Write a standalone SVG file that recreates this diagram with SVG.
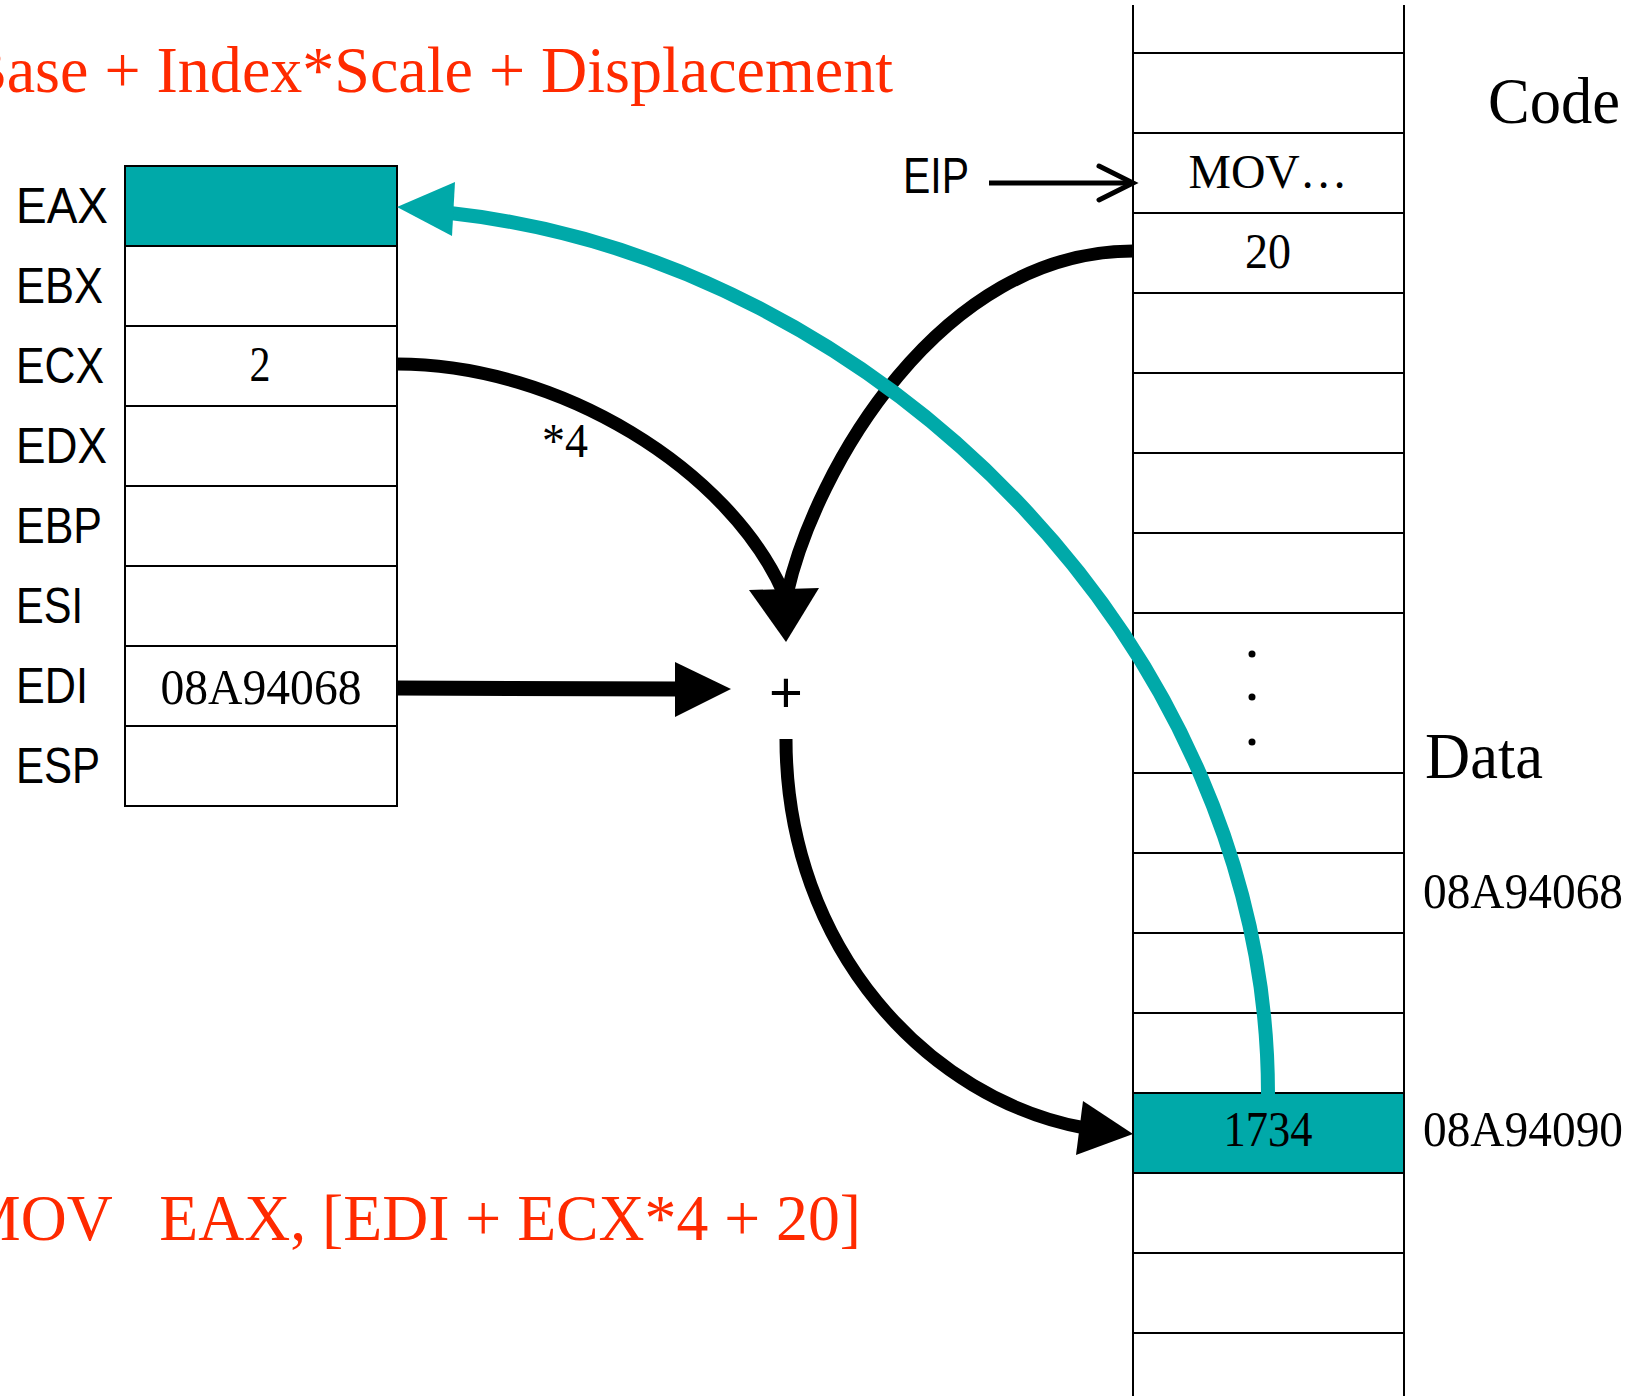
<svg xmlns="http://www.w3.org/2000/svg" width="1637" height="1396" viewBox="0 0 1637 1396">
<style>
.cell{fill:#fff;stroke:#000;stroke-width:2}
.teal{fill:#00A9A9;stroke:#000;stroke-width:2}
.reg{font-family:"Liberation Sans",Arial,sans-serif;font-size:50px;fill:#000}
.ser{font-family:"Liberation Serif","Times New Roman",serif;fill:#000}
.red{font-family:"Liberation Serif","Times New Roman",serif;font-size:66px;fill:#FF2A00}
.mline{stroke:#000;stroke-width:2}
.thick{fill:none;stroke:#000;stroke-width:13}
</style>
<rect width="1637" height="1396" fill="#fff"/>

<text class="red" x="-36" y="92" textLength="929" lengthAdjust="spacingAndGlyphs">Base + Index*Scale + Displacement</text>
<text class="red" x="-36" y="1240" style="white-space:pre" textLength="897" lengthAdjust="spacingAndGlyphs">MOV   EAX, [EDI + ECX*4 + 20]</text>

<g id="registers">
  <g id="reg-eax"><rect class="teal" x="125" y="166" width="272" height="80"/><text class="reg" x="16" y="223" textLength="92" lengthAdjust="spacingAndGlyphs">EAX</text></g>
  <g id="reg-ebx"><rect class="cell" x="125" y="246" width="272" height="80"/><text class="reg" x="16" y="303" textLength="87" lengthAdjust="spacingAndGlyphs">EBX</text></g>
  <g id="reg-ecx"><rect class="cell" x="125" y="326" width="272" height="80"/><text class="reg" x="16" y="383" textLength="88" lengthAdjust="spacingAndGlyphs">ECX</text><text class="ser" x="260" y="381" font-size="50" text-anchor="middle" textLength="21" lengthAdjust="spacingAndGlyphs">2</text></g>
  <g id="reg-edx"><rect class="cell" x="125" y="406" width="272" height="80"/><text class="reg" x="16" y="463" textLength="91" lengthAdjust="spacingAndGlyphs">EDX</text></g>
  <g id="reg-ebp"><rect class="cell" x="125" y="486" width="272" height="80"/><text class="reg" x="16" y="543" textLength="86" lengthAdjust="spacingAndGlyphs">EBP</text></g>
  <g id="reg-esi"><rect class="cell" x="125" y="566" width="272" height="80"/><text class="reg" x="16" y="623" textLength="67" lengthAdjust="spacingAndGlyphs">ESI</text></g>
  <g id="reg-edi"><rect class="cell" x="125" y="646" width="272" height="80"/><text class="reg" x="16" y="703" textLength="72" lengthAdjust="spacingAndGlyphs">EDI</text><text class="ser" x="261" y="704" font-size="50" text-anchor="middle" textLength="201" lengthAdjust="spacingAndGlyphs">08A94068</text></g>
  <g id="reg-esp"><rect class="cell" x="125" y="726" width="272" height="80"/><text class="reg" x="16" y="783" textLength="84" lengthAdjust="spacingAndGlyphs">ESP</text></g>
</g>

<g id="memory">
  <rect class="teal" x="1133" y="1093" width="271" height="80"/>
  <line class="mline" x1="1133" y1="5" x2="1133" y2="1396"/>
  <line class="mline" x1="1404" y1="5" x2="1404" y2="1396"/>
  <g class="mline">
    <line x1="1133" y1="53" x2="1404" y2="53"/>
    <line x1="1133" y1="133" x2="1404" y2="133"/>
    <line x1="1133" y1="213" x2="1404" y2="213"/>
    <line x1="1133" y1="293" x2="1404" y2="293"/>
    <line x1="1133" y1="373" x2="1404" y2="373"/>
    <line x1="1133" y1="453" x2="1404" y2="453"/>
    <line x1="1133" y1="533" x2="1404" y2="533"/>
    <line x1="1133" y1="613" x2="1404" y2="613"/>
    <line x1="1133" y1="773" x2="1404" y2="773"/>
    <line x1="1133" y1="853" x2="1404" y2="853"/>
    <line x1="1133" y1="933" x2="1404" y2="933"/>
    <line x1="1133" y1="1013" x2="1404" y2="1013"/>
    <line x1="1133" y1="1093" x2="1404" y2="1093"/>
    <line x1="1133" y1="1173" x2="1404" y2="1173"/>
    <line x1="1133" y1="1253" x2="1404" y2="1253"/>
    <line x1="1133" y1="1333" x2="1404" y2="1333"/>
  </g>
  <g id="mem-mov"><text class="ser" x="1268" y="188" font-size="48" text-anchor="middle" textLength="159" lengthAdjust="spacingAndGlyphs">MOV…</text></g>
  <g id="mem-20"><text class="ser" x="1268" y="268" font-size="50" text-anchor="middle" textLength="46" lengthAdjust="spacingAndGlyphs">20</text></g>
  <g id="mem-dots" fill="#000"><circle cx="1252" cy="654" r="3.5"/><circle cx="1252" cy="697" r="3.5"/><circle cx="1252" cy="742" r="3.5"/></g>
  <g id="mem-1734"><text class="ser" x="1268" y="1146" font-size="50" text-anchor="middle" textLength="89" lengthAdjust="spacingAndGlyphs">1734</text></g>
</g>

<g id="labels">
  <text class="ser" x="1488" y="123" font-size="66" textLength="132" lengthAdjust="spacingAndGlyphs">Code</text>
  <text class="ser" x="1425" y="778" font-size="66" textLength="118" lengthAdjust="spacingAndGlyphs">Data</text>
  <text class="ser" x="1423" y="908" font-size="50" textLength="200" lengthAdjust="spacingAndGlyphs">08A94068</text>
  <text class="ser" x="1423" y="1146" font-size="50" textLength="200" lengthAdjust="spacingAndGlyphs">08A94090</text>
  <text class="reg" x="903" y="193" textLength="66" lengthAdjust="spacingAndGlyphs">EIP</text>
  <text class="ser" x="542" y="457" font-size="48" textLength="46" lengthAdjust="spacingAndGlyphs">*4</text>
  <g id="plus"><text x="786" y="712" font-family="Liberation Sans, Arial, sans-serif" font-size="58" text-anchor="middle" fill="#000">+</text></g>
</g>

<g id="connectors">
  <line x1="989" y1="183" x2="1130" y2="183" stroke="#000" stroke-width="5"/>
  <polyline points="1099,166 1133,183 1099,200" fill="none" stroke="#000" stroke-width="5" stroke-linecap="round" stroke-linejoin="miter"/>
  <path class="thick" d="M397,364 C560,364 730,470 784,594"/>
  <path class="thick" d="M1133,251 C940,251 815,470 787,594"/>
  <polygon points="749,590 819,588 786,642" fill="#000"/>
  <line x1="397" y1="688" x2="680" y2="689" stroke="#000" stroke-width="15"/>
  <polygon points="675,662 731,689 675,717" fill="#000"/>
  <path class="thick" d="M786,739 C786,950 930,1100 1085,1128"/>
  <polygon points="1083,1101 1133,1134 1076,1155" fill="#000"/>
  <path d="M1268,1094 C1268,650 880,260 450,213" fill="none" stroke="#00A9A9" stroke-width="14"/>
  <polygon points="455,182 397,207 452,236" fill="#00A9A9"/>
</g>
</svg>
